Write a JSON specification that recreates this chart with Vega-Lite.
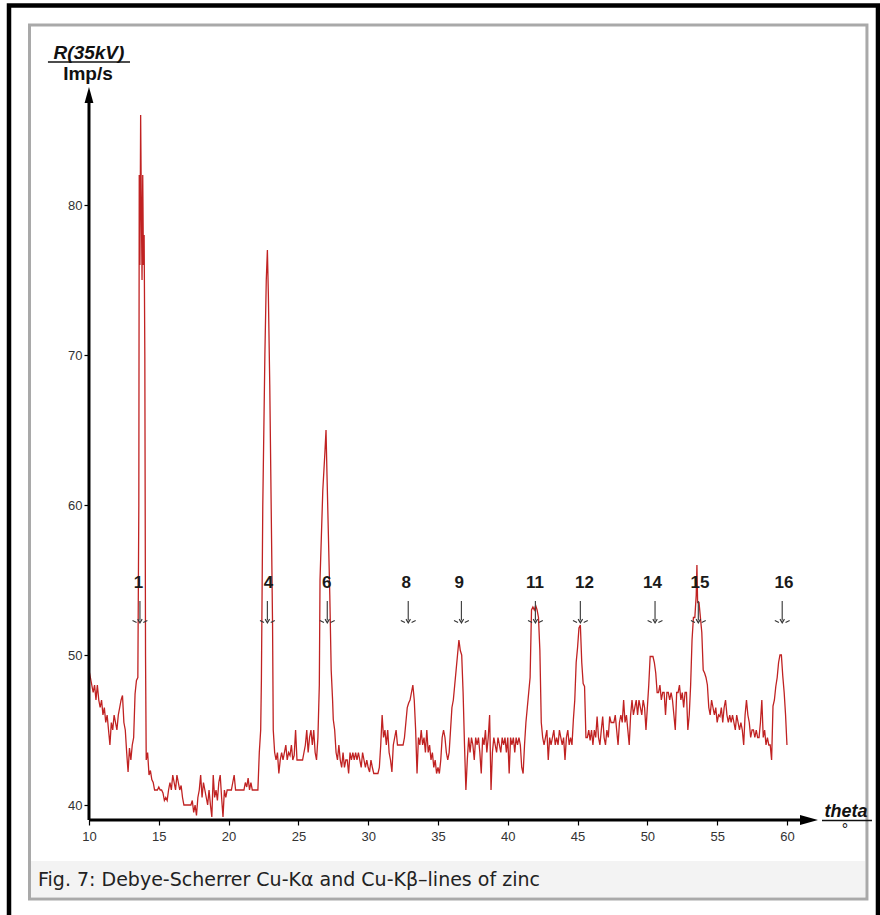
{
  "$schema": "https://vega.github.io/schema/vega-lite/v6.json",
  "width": 880,
  "height": 915,
  "padding": 0,
  "autosize": {"type": "none"},
  "background": "white",
  "config": {"view": {"stroke": null}},
  "data": {"values": [{}]},
  "datasets": {
    "scan": [
      {"t":10.0,"r":49},{"t":10.1,"r":48.5},{"t":10.2,"r":48},{"t":10.3,"r":47.5},{"t":10.4,"r":48},{"t":10.5,"r":47},{"t":10.6,"r":48},{"t":10.7,"r":47},{"t":10.8,"r":46.5},{"t":10.9,"r":47},
      {"t":11.0,"r":46},{"t":11.1,"r":46.5},{"t":11.2,"r":45.5},{"t":11.3,"r":46},{"t":11.4,"r":45},{"t":11.5,"r":44},{"t":11.6,"r":45.5},{"t":11.7,"r":45},{"t":11.8,"r":46},{"t":11.9,"r":45.5},
      {"t":12.0,"r":45},{"t":12.1,"r":46},{"t":12.2,"r":46.5},{"t":12.3,"r":47},{"t":12.4,"r":47.3},{"t":12.5,"r":45.5},{"t":12.6,"r":45},{"t":12.7,"r":43.5},{"t":12.8,"r":42.2},{"t":12.9,"r":43.8},
      {"t":13.0,"r":43},{"t":13.1,"r":44},{"t":13.2,"r":44.5},{"t":13.3,"r":47.4},{"t":13.4,"r":48.3},{"t":13.5,"r":48.5},{"t":13.57,"r":60},{"t":13.6,"r":82},{"t":13.65,"r":76},{"t":13.7,"r":86},
      {"t":13.75,"r":80},{"t":13.8,"r":75},{"t":13.85,"r":82},{"t":13.9,"r":76},{"t":13.95,"r":78},{"t":14.0,"r":70},{"t":14.05,"r":50},{"t":14.1,"r":43},{"t":14.2,"r":43.5},{"t":14.3,"r":42},
      {"t":14.4,"r":42.3},{"t":14.5,"r":41.7},{"t":14.6,"r":41.5},{"t":14.7,"r":41},{"t":14.8,"r":41},{"t":14.9,"r":41},{"t":15.0,"r":41.2},{"t":15.1,"r":41},{"t":15.2,"r":41},{"t":15.3,"r":40.8},
      {"t":15.4,"r":40.3},{"t":15.5,"r":40.5},{"t":15.6,"r":40.3},{"t":15.7,"r":41},{"t":15.8,"r":41.5},{"t":15.9,"r":41},{"t":16.0,"r":42},{"t":16.1,"r":41.5},{"t":16.2,"r":41},{"t":16.3,"r":42},
      {"t":16.4,"r":41.5},{"t":16.5,"r":41},{"t":16.6,"r":41.3},{"t":16.7,"r":40.5},{"t":16.8,"r":40},{"t":16.9,"r":40},{"t":17.0,"r":40},{"t":17.1,"r":40},{"t":17.2,"r":40},{"t":17.3,"r":40},
      {"t":17.4,"r":40.3},{"t":17.5,"r":39.5},{"t":17.6,"r":40},{"t":17.7,"r":39.3},{"t":17.8,"r":40.5},{"t":17.9,"r":41},{"t":18.0,"r":42},{"t":18.1,"r":40.5},{"t":18.2,"r":41.5},{"t":18.3,"r":41},
      {"t":18.4,"r":40.5},{"t":18.5,"r":40},{"t":18.6,"r":41},{"t":18.7,"r":40},{"t":18.8,"r":39.2},{"t":18.9,"r":42},{"t":19.0,"r":40.5},{"t":19.1,"r":41},{"t":19.2,"r":40.3},{"t":19.3,"r":41.5},
      {"t":19.4,"r":42},{"t":19.5,"r":40.5},{"t":19.6,"r":39.2},{"t":19.7,"r":41},{"t":19.8,"r":40.5},{"t":19.9,"r":41},{"t":20.0,"r":41},{"t":20.1,"r":41},{"t":20.2,"r":41},{"t":20.3,"r":41.5},
      {"t":20.4,"r":42},{"t":20.5,"r":41},{"t":20.6,"r":41},{"t":20.7,"r":41},{"t":20.8,"r":41},{"t":20.9,"r":41},{"t":21.0,"r":41},{"t":21.1,"r":41},{"t":21.2,"r":41.5},{"t":21.3,"r":41.2},
      {"t":21.4,"r":41.8},{"t":21.5,"r":41},{"t":21.6,"r":41.5},{"t":21.7,"r":41},{"t":21.8,"r":41},{"t":21.9,"r":41},{"t":22.0,"r":41},{"t":22.1,"r":41},{"t":22.2,"r":43.5},{"t":22.3,"r":45},
      {"t":22.35,"r":48.3},{"t":22.45,"r":60},{"t":22.6,"r":70},{"t":22.7,"r":75},{"t":22.78,"r":77},{"t":22.85,"r":74},{"t":22.95,"r":68},{"t":23.05,"r":60},{"t":23.15,"r":52},{"t":23.2,"r":45},
      {"t":23.3,"r":43.5},{"t":23.4,"r":43},{"t":23.5,"r":43.5},{"t":23.6,"r":42.1},{"t":23.7,"r":43},{"t":23.8,"r":43.5},{"t":23.9,"r":43},{"t":24.0,"r":43.5},{"t":24.1,"r":44},{"t":24.2,"r":43},
      {"t":24.3,"r":43.5},{"t":24.4,"r":43.3},{"t":24.5,"r":44},{"t":24.6,"r":43},{"t":24.7,"r":43.3},{"t":24.8,"r":45},{"t":24.9,"r":43},{"t":25.0,"r":43},{"t":25.1,"r":43},{"t":25.2,"r":43},
      {"t":25.3,"r":43},{"t":25.4,"r":43.5},{"t":25.5,"r":44},{"t":25.6,"r":45},{"t":25.7,"r":43.5},{"t":25.8,"r":44.5},{"t":25.9,"r":45},{"t":26.0,"r":44},{"t":26.1,"r":45},{"t":26.2,"r":43.5},
      {"t":26.3,"r":43},{"t":26.4,"r":44.5},{"t":26.5,"r":48},{"t":26.55,"r":55},{"t":26.65,"r":58},{"t":26.75,"r":61},{"t":26.9,"r":63.5},{"t":26.98,"r":65},{"t":27.05,"r":62},{"t":27.15,"r":58},
      {"t":27.25,"r":54},{"t":27.35,"r":49},{"t":27.45,"r":47},{"t":27.5,"r":45.7},{"t":27.6,"r":45},{"t":27.7,"r":43.5},{"t":27.8,"r":43},{"t":27.9,"r":44},{"t":28.0,"r":43},{"t":28.1,"r":42.5},
      {"t":28.2,"r":43.5},{"t":28.3,"r":42.5},{"t":28.4,"r":43},{"t":28.5,"r":43},{"t":28.6,"r":42.1},{"t":28.7,"r":43.5},{"t":28.8,"r":43},{"t":28.9,"r":43.5},{"t":29.0,"r":43},{"t":29.1,"r":43.5},
      {"t":29.2,"r":43},{"t":29.3,"r":43.5},{"t":29.4,"r":43},{"t":29.5,"r":42.5},{"t":29.6,"r":43.5},{"t":29.7,"r":43},{"t":29.8,"r":42.5},{"t":29.9,"r":43},{"t":30.0,"r":42.5},{"t":30.1,"r":42.2},
      {"t":30.2,"r":43},{"t":30.3,"r":42.5},{"t":30.4,"r":42.1},{"t":30.5,"r":42.1},{"t":30.6,"r":42.1},{"t":30.7,"r":42.1},{"t":30.8,"r":42.5},{"t":30.9,"r":44},{"t":31.0,"r":46},{"t":31.1,"r":44.5},
      {"t":31.2,"r":45},{"t":31.3,"r":44},{"t":31.4,"r":45},{"t":31.5,"r":43.5},{"t":31.6,"r":43},{"t":31.7,"r":42.2},{"t":31.8,"r":44},{"t":31.9,"r":44.5},{"t":32.0,"r":45},{"t":32.1,"r":44},
      {"t":32.2,"r":44},{"t":32.3,"r":44},{"t":32.4,"r":44},{"t":32.5,"r":44},{"t":32.6,"r":44.5},{"t":32.7,"r":45.5},{"t":32.8,"r":46.5},{"t":32.9,"r":46.8},{"t":33.0,"r":47},{"t":33.1,"r":47.5},
      {"t":33.2,"r":48},{"t":33.3,"r":47},{"t":33.4,"r":45},{"t":33.5,"r":42.1},{"t":33.6,"r":44.5},{"t":33.7,"r":44},{"t":33.8,"r":45},{"t":33.9,"r":44},{"t":34.0,"r":44.5},{"t":34.1,"r":43.5},
      {"t":34.2,"r":45},{"t":34.3,"r":43.5},{"t":34.4,"r":44},{"t":34.5,"r":43},{"t":34.6,"r":43.5},{"t":34.7,"r":42.5},{"t":34.8,"r":43},{"t":34.9,"r":42.1},{"t":35.0,"r":42.5},{"t":35.1,"r":42.1},
      {"t":35.2,"r":43},{"t":35.3,"r":44.5},{"t":35.4,"r":45},{"t":35.5,"r":44.5},{"t":35.6,"r":43.5},{"t":35.7,"r":43},{"t":35.8,"r":43.5},{"t":35.9,"r":45},{"t":36.0,"r":46.5},{"t":36.1,"r":47},
      {"t":36.2,"r":48},{"t":36.3,"r":49},{"t":36.4,"r":50},{"t":36.5,"r":51},{"t":36.6,"r":50.3},{"t":36.7,"r":50},{"t":36.8,"r":47.5},{"t":36.9,"r":44},{"t":37.0,"r":41},{"t":37.1,"r":43},
      {"t":37.2,"r":44.5},{"t":37.3,"r":43.5},{"t":37.4,"r":44.5},{"t":37.5,"r":44},{"t":37.6,"r":43},{"t":37.7,"r":44.5},{"t":37.8,"r":44},{"t":37.9,"r":44.5},{"t":38.0,"r":43.5},{"t":38.1,"r":42.1},
      {"t":38.2,"r":44.5},{"t":38.3,"r":44},{"t":38.4,"r":45},{"t":38.5,"r":43.5},{"t":38.6,"r":44.5},{"t":38.7,"r":46},{"t":38.8,"r":41},{"t":38.9,"r":43.5},{"t":39.0,"r":44.5},{"t":39.1,"r":44},
      {"t":39.2,"r":43.5},{"t":39.3,"r":44.5},{"t":39.4,"r":44},{"t":39.5,"r":43.5},{"t":39.6,"r":44.5},{"t":39.7,"r":44},{"t":39.8,"r":44.5},{"t":39.9,"r":43.5},{"t":40.0,"r":44.5},{"t":40.1,"r":42.1},
      {"t":40.2,"r":44.5},{"t":40.3,"r":44},{"t":40.4,"r":44.5},{"t":40.5,"r":43.5},{"t":40.6,"r":44.5},{"t":40.7,"r":44},{"t":40.8,"r":44.5},{"t":40.9,"r":44},{"t":41.0,"r":42.5},{"t":41.1,"r":42.1},
      {"t":41.2,"r":44},{"t":41.3,"r":45.5},{"t":41.4,"r":46.5},{"t":41.5,"r":47.5},{"t":41.6,"r":48.5},{"t":41.7,"r":53},{"t":41.8,"r":53.2},{"t":41.9,"r":53},{"t":42.0,"r":53.3},{"t":42.1,"r":53},
      {"t":42.2,"r":52.5},{"t":42.3,"r":50.3},{"t":42.4,"r":45.5},{"t":42.5,"r":44.5},{"t":42.6,"r":44},{"t":42.7,"r":44.5},{"t":42.8,"r":45},{"t":42.9,"r":43},{"t":43.0,"r":44.5},{"t":43.1,"r":44},
      {"t":43.2,"r":44.5},{"t":43.3,"r":45},{"t":43.4,"r":44},{"t":43.5,"r":44.5},{"t":43.6,"r":44},{"t":43.7,"r":45},{"t":43.8,"r":44.5},{"t":43.9,"r":44},{"t":44.0,"r":44.5},{"t":44.1,"r":43},
      {"t":44.2,"r":44.5},{"t":44.3,"r":45},{"t":44.4,"r":44},{"t":44.5,"r":44.5},{"t":44.6,"r":44},{"t":44.7,"r":45.7},{"t":44.8,"r":47},{"t":44.9,"r":49.5},{"t":45.0,"r":50.5},{"t":45.1,"r":51.8},
      {"t":45.2,"r":52},{"t":45.3,"r":49.5},{"t":45.4,"r":48.1},{"t":45.5,"r":47.9},{"t":45.6,"r":44.5},{"t":45.7,"r":44.5},{"t":45.8,"r":45},{"t":45.9,"r":44.3},{"t":46.0,"r":45},{"t":46.1,"r":44},
      {"t":46.2,"r":45},{"t":46.3,"r":44.5},{"t":46.4,"r":45.9},{"t":46.5,"r":44.5},{"t":46.6,"r":44},{"t":46.7,"r":45},{"t":46.8,"r":45.9},{"t":46.9,"r":44.5},{"t":47.0,"r":44},{"t":47.1,"r":45},
      {"t":47.2,"r":44.5},{"t":47.3,"r":45.9},{"t":47.4,"r":45.5},{"t":47.5,"r":45.5},{"t":47.6,"r":45.5},{"t":47.7,"r":46},{"t":47.8,"r":45},{"t":47.9,"r":44},{"t":48.0,"r":45.5},{"t":48.1,"r":46},
      {"t":48.2,"r":45.5},{"t":48.3,"r":47},{"t":48.4,"r":45.5},{"t":48.5,"r":46},{"t":48.6,"r":45},{"t":48.7,"r":44},{"t":48.8,"r":46},{"t":48.9,"r":47},{"t":49.0,"r":46},{"t":49.1,"r":46.5},
      {"t":49.2,"r":47},{"t":49.3,"r":46},{"t":49.4,"r":47},{"t":49.5,"r":46.5},{"t":49.6,"r":46},{"t":49.7,"r":47},{"t":49.8,"r":46.5},{"t":49.9,"r":45},{"t":50.0,"r":46.5},{"t":50.1,"r":48},
      {"t":50.2,"r":49.9},{"t":50.3,"r":49.9},{"t":50.4,"r":49.9},{"t":50.5,"r":49.5},{"t":50.6,"r":48.8},{"t":50.7,"r":47.5},{"t":50.8,"r":47.5},{"t":50.9,"r":48},{"t":51.0,"r":47},{"t":51.1,"r":47.5},
      {"t":51.2,"r":47.5},{"t":51.3,"r":46},{"t":51.4,"r":47.5},{"t":51.5,"r":47.5},{"t":51.6,"r":47},{"t":51.7,"r":47.5},{"t":51.8,"r":47},{"t":51.9,"r":46},{"t":52.0,"r":45},{"t":52.1,"r":47.5},
      {"t":52.2,"r":47.5},{"t":52.3,"r":48},{"t":52.4,"r":47},{"t":52.5,"r":47.5},{"t":52.6,"r":46.5},{"t":52.7,"r":47.5},{"t":52.8,"r":47.5},{"t":52.9,"r":45},{"t":53.0,"r":46},{"t":53.1,"r":48},
      {"t":53.2,"r":51},{"t":53.3,"r":52.5},{"t":53.4,"r":52.5},{"t":53.5,"r":54},{"t":53.55,"r":56},{"t":53.6,"r":53.5},{"t":53.7,"r":53.5},{"t":53.8,"r":52.5},{"t":53.9,"r":51.5},{"t":54.0,"r":49},
      {"t":54.1,"r":48.8},{"t":54.2,"r":48.5},{"t":54.3,"r":48},{"t":54.4,"r":46.5},{"t":54.5,"r":46},{"t":54.6,"r":47},{"t":54.7,"r":46.5},{"t":54.8,"r":46},{"t":54.9,"r":46.5},{"t":55.0,"r":45.5},
      {"t":55.1,"r":46},{"t":55.2,"r":45.9},{"t":55.3,"r":46.5},{"t":55.4,"r":45.5},{"t":55.5,"r":46.5},{"t":55.6,"r":47},{"t":55.7,"r":46},{"t":55.8,"r":45.5},{"t":55.9,"r":46},{"t":56.0,"r":45.5},
      {"t":56.1,"r":46},{"t":56.2,"r":45.5},{"t":56.3,"r":45},{"t":56.4,"r":46},{"t":56.5,"r":45.5},{"t":56.6,"r":45},{"t":56.7,"r":45.5},{"t":56.8,"r":45},{"t":56.9,"r":44},{"t":57.0,"r":46},
      {"t":57.1,"r":47},{"t":57.2,"r":46},{"t":57.3,"r":45.5},{"t":57.4,"r":44.5},{"t":57.5,"r":45},{"t":57.6,"r":45},{"t":57.7,"r":44.5},{"t":57.8,"r":45},{"t":57.9,"r":44.5},{"t":58.0,"r":44.5},
      {"t":58.1,"r":45.5},{"t":58.2,"r":47},{"t":58.3,"r":44.5},{"t":58.4,"r":45},{"t":58.5,"r":44},{"t":58.6,"r":44.5},{"t":58.7,"r":44},{"t":58.8,"r":44},{"t":58.9,"r":43},{"t":59.0,"r":46.6},
      {"t":59.1,"r":47},{"t":59.2,"r":47.9},{"t":59.3,"r":48.5},{"t":59.4,"r":49.5},{"t":59.5,"r":50},{"t":59.6,"r":50},{"t":59.7,"r":48.6},{"t":59.8,"r":47.5},{"t":59.9,"r":46},{"t":60.0,"r":44}
    ],
    "peaks": [
      {"n":"1","lt":13.55,"at":13.65},{"n":"4","lt":22.85,"at":22.78},{"n":"6","lt":27.03,"at":27.07},
      {"n":"8","lt":32.72,"at":32.87},{"n":"9","lt":36.53,"at":36.68},{"n":"11","lt":41.95,"at":41.98},
      {"n":"12","lt":45.5,"at":45.2},{"n":"14","lt":50.36,"at":50.55},{"n":"15","lt":53.77,"at":53.65},
      {"n":"16","lt":59.78,"at":59.66}
    ]
  },
  "layer": [
    {
      "mark": {"type": "rect", "fill": null, "stroke": "#000000", "strokeWidth": 4.5},
      "encoding": {
        "x": {"datum": 4.27, "type": "quantitative", "scale": {"domain": [3.625, 66.665], "nice": false, "zero": false},
          "axis": {"orient": "bottom", "offset": -95, "zindex": 2, "values": [10,15,20,25,30,35,40,45,50,55,60], "domain": false, "grid": false, "tickSize": 5, "tickColor": "#000000", "tickWidth": 1.2, "labelFont": "Liberation Sans", "labelFontSize": 13, "labelColor": "#333333", "labelPadding": 5, "labelFlush": false, "labelOverlap": false, "title": null}},
        "x2": {"datum": 66.52},
        "y": {"datum": 93.3, "type": "quantitative", "scale": {"domain": [32.667, 93.667], "nice": false, "zero": false},
          "axis": {"orient": "left", "offset": -89, "zindex": 2, "values": [40,50,60,70,80], "domain": false, "grid": false, "tickSize": 5, "tickColor": "#000000", "tickWidth": 1.2, "labelFont": "Liberation Sans", "labelFontSize": 13, "labelColor": "#333333", "labelPadding": 2, "labelFlush": false, "labelOverlap": false, "title": null}},
        "y2": {"datum": 30}
      }
    },
    {
      "mark": {"type": "rect", "fill": null, "stroke": "#a9a9a9", "strokeWidth": 3},
      "encoding": {
        "x": {"datum": 5.738, "type": "quantitative"},
        "x2": {"datum": 65.73},
        "y": {"datum": 92.0, "type": "quantitative"},
        "y2": {"datum": 33.733}
      }
    },
    {
      "mark": {"type": "rect", "fill": "#f3f3f3", "stroke": null},
      "encoding": {
        "x": {"datum": 5.846, "type": "quantitative"},
        "x2": {"datum": 65.59},
        "y": {"datum": 36.267, "type": "quantitative"},
        "y2": {"datum": 33.867}
      }
    },
    {
      "mark": {"type": "text", "text": "Fig. 7: Debye-Scherrer Cu-Kα and Cu-Kβ–lines of zinc", "font": "DejaVu Sans", "fontSize": 19, "align": "left", "baseline": "middle", "color": "#222222"},
      "encoding": {
        "x": {"datum": 6.35, "type": "quantitative"},
        "y": {"datum": 35.0, "type": "quantitative"}
      }
    },
    {
      "data": {"name": "scan"},
      "mark": {"type": "line", "color": "#c02222", "strokeWidth": 1.3, "interpolate": "linear"},
      "encoding": {
        "x": {"field": "t", "type": "quantitative"},
        "y": {"field": "r", "type": "quantitative"}
      }
    },
    {
      "mark": {"type": "rule", "color": "#000000", "strokeWidth": 3},
      "encoding": {
        "x": {"datum": 10, "type": "quantitative"},
        "y": {"datum": 39, "type": "quantitative"},
        "y2": {"datum": 87.2}
      }
    },
    {
      "mark": {"type": "rule", "color": "#000000", "strokeWidth": 3},
      "encoding": {
        "x": {"datum": 10, "type": "quantitative"},
        "x2": {"datum": 61.2},
        "y": {"datum": 39, "type": "quantitative"}
      }
    },
    {
      "mark": {"type": "point", "shape": "M0,-1L0.55,1L-0.55,1Z", "filled": true, "color": "#000000", "size": 256, "opacity": 1},
      "encoding": {
        "x": {"datum": 10, "type": "quantitative"},
        "y": {"datum": 87.33, "type": "quantitative"}
      }
    },
    {
      "mark": {"type": "point", "shape": "M1,0L-1,-0.55L-1,0.55Z", "filled": true, "color": "#000000", "size": 324, "opacity": 1},
      "encoding": {
        "x": {"datum": 61.58, "type": "quantitative"},
        "y": {"datum": 39, "type": "quantitative"}
      }
    },
    {
      "mark": {"type": "text", "text": "R(35kV)", "font": "Liberation Sans", "fontSize": 19, "fontWeight": "bold", "fontStyle": "italic", "align": "center", "baseline": "alphabetic", "color": "#111111"},
      "encoding": {
        "x": {"datum": 10.0, "type": "quantitative"},
        "y": {"datum": 89.73, "type": "quantitative"}
      }
    },
    {
      "mark": {"type": "rule", "color": "#111111", "strokeWidth": 1.5},
      "encoding": {
        "x": {"datum": 7.06, "type": "quantitative"},
        "x2": {"datum": 12.94},
        "y": {"datum": 89.53, "type": "quantitative"}
      }
    },
    {
      "mark": {"type": "text", "text": "Imp/s", "font": "Liberation Sans", "fontSize": 19, "fontWeight": "bold", "align": "center", "baseline": "alphabetic", "color": "#111111"},
      "encoding": {
        "x": {"datum": 9.93, "type": "quantitative"},
        "y": {"datum": 88.33, "type": "quantitative"}
      }
    },
    {
      "mark": {"type": "text", "text": "theta", "font": "Liberation Sans", "fontSize": 18, "fontWeight": "bold", "fontStyle": "italic", "align": "center", "baseline": "alphabetic", "color": "#111111"},
      "encoding": {
        "x": {"datum": 64.23, "type": "quantitative"},
        "y": {"datum": 39.2, "type": "quantitative"}
      }
    },
    {
      "mark": {"type": "rule", "color": "#111111", "strokeWidth": 1.5},
      "encoding": {
        "x": {"datum": 62.51, "type": "quantitative"},
        "x2": {"datum": 66.09},
        "y": {"datum": 38.97, "type": "quantitative"}
      }
    },
    {
      "mark": {"type": "text", "text": "°", "font": "Liberation Sans", "fontSize": 16, "align": "center", "baseline": "middle", "color": "#111111"},
      "encoding": {
        "x": {"datum": 64.16, "type": "quantitative"},
        "y": {"datum": 38.33, "type": "quantitative"}
      }
    },
    {
      "data": {"name": "peaks"},
      "mark": {"type": "text", "font": "Liberation Sans", "fontSize": 17, "fontWeight": "bold", "align": "center", "baseline": "middle", "color": "#1a1a1a"},
      "encoding": {
        "x": {"field": "lt", "type": "quantitative"},
        "y": {"datum": 54.8, "type": "quantitative"},
        "text": {"field": "n", "type": "nominal"}
      }
    },
    {
      "data": {"name": "peaks"},
      "mark": {"type": "rule", "color": "#444444", "strokeWidth": 1.2},
      "encoding": {
        "x": {"field": "at", "type": "quantitative"},
        "y": {"datum": 53.6, "type": "quantitative"},
        "y2": {"datum": 52.3}
      }
    },
    {
      "data": {"name": "peaks"},
      "mark": {"type": "point", "shape": "M-1,-0.15L-0.45,0.1M0.45,0.1L1,-0.15M-0.3,-0.35L0,0.15L0.3,-0.35", "filled": false, "color": "#333333", "strokeWidth": 1.1, "size": 220, "opacity": 1},
      "encoding": {
        "x": {"field": "at", "type": "quantitative"},
        "y": {"datum": 52.22, "type": "quantitative"}
      }
    }
  ]
}
